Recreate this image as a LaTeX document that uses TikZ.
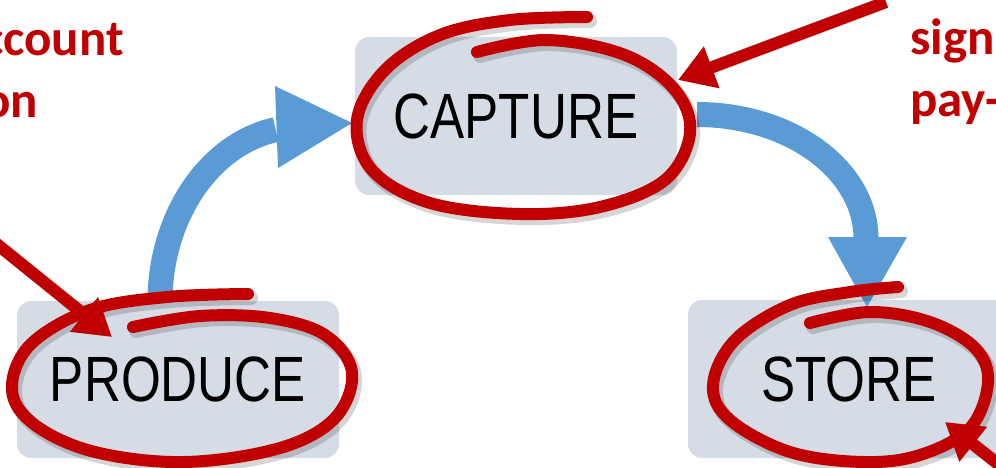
\documentclass[tikz,border=0pt]{standalone}
\usepackage{fontspec}
\setmainfont{Liberation Sans}
\newfontfamily\calib{Carlito}
\usetikzlibrary{arrows.meta}
\definecolor{boxfill}{HTML}{D6DCE5}
\definecolor{blu}{HTML}{5B9BD5}
\definecolor{redd}{HTML}{C00000}
\begin{document}
\begin{tikzpicture}[x=1pt,y=-1pt,
  box/.style={fill=boxfill, rounded corners=14pt, inner sep=0pt,
    font=\fontsize{64}{64}\selectfont},
  ring/.style={draw=redd, line width=12pt, line cap=round},
  shade/.style={draw=black, opacity=0.16, line width=14pt, line cap=round},
  pointer/.style={draw=redd, line width=12pt, -{Triangle[length=36pt,width=42pt]}},
  pshade/.style={draw=black, opacity=0.16, line width=13pt, -{Triangle[length=36pt,width=42pt]}},
  note/.style={font=\calib\bfseries\fontsize{51}{51}\selectfont, text=redd, inner sep=0pt},
  band/.style={draw=blu, line width=25pt}
]
\useasboundingbox (0,0) rectangle (996,468);
\clip (0,0) rectangle (996,468);

% boxes
\node[box, minimum width=322pt, minimum height=158pt] (capture) at (516,116) {\scalebox{0.8}[1]{CAPTURE}};
\node[box, minimum width=322pt, minimum height=157pt] (produce) at (178,379.5) {\scalebox{0.8}[1]{PRODUCE}};
\node[box, minimum width=322pt, minimum height=158pt, text width=322pt] (store) at (849,379) {\hspace*{0pt}\hfill\scalebox{0.8}[1]{STORE}\hfill\hspace*{0pt}};

% blue cycle arrows
\draw[band] (160,302) arc[start angle=180, end angle=260, x radius=140, y radius=175];
\fill[blu] (275,86) -- (352,123) -- (278,168) -- cycle;
\draw[band] (697,114.5) arc[start angle=-90, end angle=0, x radius=169, y radius=124];
\fill[blu] (828,237) -- (907,237) -- (867,307) -- cycle;

% red notes
\node[note, anchor=base east] (n1) at (124,56) {ccount};
\node[note, anchor=base east] (n2) at (38,118) {ion};
\node[note, anchor=base west] (n3) at (910,55) {sign};
\node[note, anchor=base west] (n4) at (910,117) {pay-};

% red rings: shadows
\begin{scope}[shift={(3,4)}]
\draw[shade] plot[smooth, tension=0.6] coordinates {(477,52) (547,40) (625,55) (675,90) (690,133) (665,180) (600,207) (520,214) (430,203) (372,170) (357,120) (385,70) (440,35) (510,20) (587,17)};
\draw[shade] plot[smooth, tension=0.6] coordinates {(133,327) (200,316) (270,318) (325,335) (352,372) (335,418) (280,448) (185,462) (95,452) (35,425) (12,390) (30,345) (90,310) (167,297) (248,294)};
\draw[shade] plot[smooth, tension=0.6] coordinates {(810,323) (870,312) (930,322) (975,348) (988,382) (970,428) (920,455) (863,462) (790,452) (730,420) (713,385) (735,340) (790,305) (850,292) (898,287)};
\end{scope}
% red rings
\draw[ring] plot[smooth, tension=0.6] coordinates {(477,52) (547,40) (625,55) (675,90) (690,133) (665,180) (600,207) (520,214) (430,203) (372,170) (357,120) (385,70) (440,35) (510,20) (587,17)};
\draw[ring] plot[smooth, tension=0.6] coordinates {(133,327) (200,316) (270,318) (325,335) (352,372) (335,418) (280,448) (185,462) (95,452) (35,425) (12,390) (30,345) (90,310) (167,297) (248,294)};
\draw[ring] plot[smooth, tension=0.6] coordinates {(810,323) (870,312) (930,322) (975,348) (988,382) (970,428) (920,455) (863,462) (790,452) (730,420) (713,385) (735,340) (790,305) (850,292) (898,287)};

% red pointers
\coordinate (p1s) at (886,2);   \coordinate (p1t) at (678,80);
\coordinate (p2s) at (-12,237); \coordinate (p2t) at (112,337);
\coordinate (p3s) at (1012,475);\coordinate (p3t) at (945,422);
\begin{scope}[shift={(3,4)}]
\draw[pshade] (p1s) -- (p1t);
\draw[pshade] (p2s) -- (p2t);
\draw[pshade] (p3s) -- (p3t);
\end{scope}
\draw[pointer] (p1s) -- (p1t);
\draw[pointer] (p2s) -- (p2t);
\draw[pointer] (p3s) -- (p3t);
\end{tikzpicture}
\end{document}
